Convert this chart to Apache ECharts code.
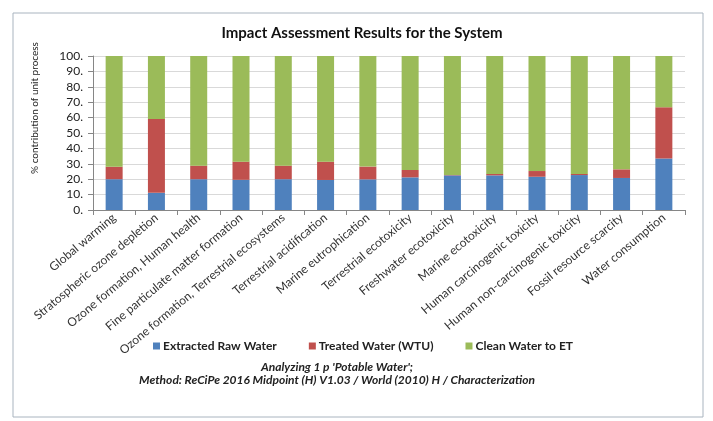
<!DOCTYPE html>
<html><head><meta charset="utf-8">
<script src="https://cdn.jsdelivr.net/npm/echarts@6/dist/echarts.min.js"></script>
<style>html,body{margin:0;padding:0;background:#fff}#c{width:713px;height:421px}</style>
</head><body><div id="c"></div>
<script>
const categories = ['Global warming','Stratospheric ozone depletion','Ozone formation, Human health','Fine particulate matter formation','Ozone formation, Terrestrial ecosystems','Terrestrial acidification','Marine eutrophication','Terrestrial ecotoxicity','Freshwater ecotoxicity','Marine ecotoxicity','Human carcinogenic toxicity','Human non-carcinogenic toxicity','Fossil resource scarcity','Water consumption'];
const extractedRawWater = [20.0, 11.2, 20.0, 19.6, 20.0, 19.5, 19.9, 21.2, 22.5, 22.5, 21.6, 22.7, 20.8, 33.5];
const treatedWater = [8.1, 47.9, 8.8, 11.8, 8.8, 11.9, 8.3, 4.8, 0.3, 0.9, 3.7, 0.7, 5.6, 33.2];
const cleanWaterToET = [71.9, 40.9, 71.2, 68.6, 71.2, 68.6, 71.8, 74.0, 77.2, 76.6, 74.7, 76.6, 73.6, 33.3];
const seriesNames = ['Extracted Raw Water','Treated Water (WTU)','Clean Water to ET'];
const yTicks = [0,10,20,30,40,50,60,70,80,90,100];

const FONT = 'Lato';
const chart = echarts.init(document.getElementById('c'), null, {renderer:'canvas'});
const colors = ['#4F81BD','#C0504D','#9BBB59'];
chart.setOption({
  animation:false,
  textStyle:{fontFamily:FONT},
  title:[
    {text:'Impact Assessment Results for the System', left:357, top:21, textAlign:'center',
     textStyle:{fontFamily:FONT, fontSize:15, fontWeight:'bold', color:'#111'}},
    {text:"Analyzing 1 p 'Potable Water';\nMethod: ReCiPe 2016 Midpoint (H) V1.03 / World (2010) H / Characterization",
     left:332, top:356, textAlign:'center',
     textStyle:{fontFamily:FONT, fontSize:12, fontStyle:'italic', fontWeight:'bold', color:'#222', lineHeight:13}}
  ],
  legend:{data:seriesNames, left:148, top:335, icon:'rect', itemWidth:7, itemHeight:7, itemGap:32,
    textStyle:{fontFamily:FONT, fontSize:12, fontWeight:'bold', color:'#222', padding:[0,0,0,-2]}},
  grid:{left:93, right:28, top:56, bottom:211, containLabel:false},
  xAxis:{type:'category', data:categories,
    axisLine:{lineStyle:{color:'#868686'}},
    axisTick:{show:true, alignWithLabel:false, length:5, lineStyle:{color:'#868686'}},
    axisLabel:{rotate:40, interval:0, fontFamily:FONT, fontSize:12, color:'#333', margin:6}},
  yAxis:{type:'value', min:0, max:100, interval:10,
    axisLine:{show:true, lineStyle:{color:'#868686'}},
    axisTick:{show:true, length:5, lineStyle:{color:'#868686'}},
    splitLine:{lineStyle:{color:'#d9d9d9'}},
    axisLabel:{fontFamily:FONT, fontSize:12, color:'#222', margin:10,
      formatter:v=> yTicks.includes(v) ? v + '.' : ''}},
  graphic:[
    {type:'rect', shape:{x:13, y:13, width:690, height:404}, style:{fill:'none', stroke:'#a9b4bf', lineWidth:1}, silent:true},
    {type:'text', x:35, y:108, rotation:Math.PI/2, style:{text:'% contribution of unit process', fontFamily:FONT, fontSize:10, fill:'#222', align:'center', verticalAlign:'middle'}}
  ],
  series:[
    {name:seriesNames[0], type:'bar', stack:'t', data:extractedRawWater, barWidth:17, itemStyle:{color:colors[0]}},
    {name:seriesNames[1], type:'bar', stack:'t', data:treatedWater, barWidth:17, itemStyle:{color:colors[1]}},
    {name:seriesNames[2], type:'bar', stack:'t', data:cleanWaterToET, barWidth:17, itemStyle:{color:colors[2]}}
  ]
});
</script></body></html>
